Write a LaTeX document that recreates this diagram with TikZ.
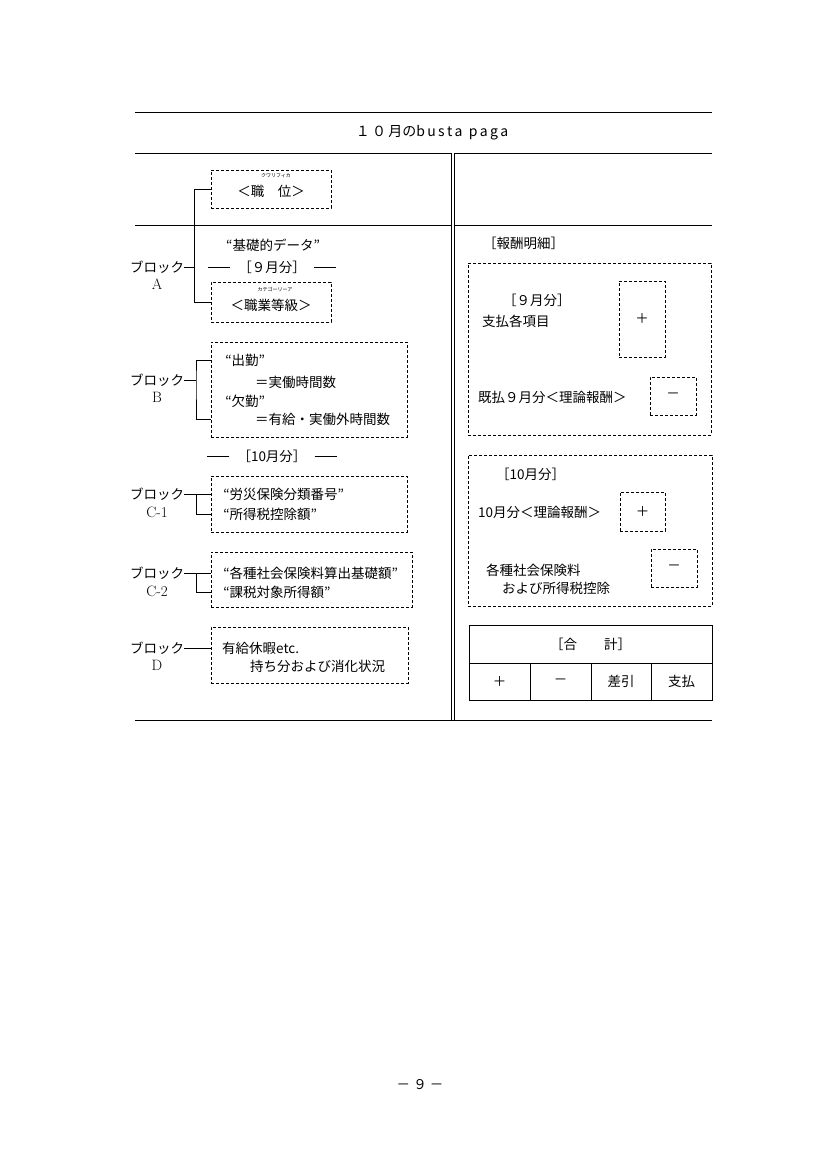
\documentclass[tikz,border=0pt]{standalone}
\usepackage{fontspec}
\newfontfamily\jpfont{Noto Sans CJK JP}
\usetikzlibrary{positioning}

\newcommand{\oq}{\makebox[0.85em][r]{“}}
\newcommand{\cq}{\makebox[0.85em][l]{”}}

\tikzset{
  jp/.style={font=\jpfont\fontsize{13.5}{15}\selectfont, inner sep=0pt},
  lat/.style={font=\fontsize{15}{17}\selectfont, inner sep=0pt},
  ruby/.style={font=\jpfont\fontsize{5}{6}\selectfont, inner sep=0pt},
  dbox/.style={draw, line width=0.6pt, dash pattern=on 3pt off 2pt, inner sep=0pt},
  cell/.style={draw, line width=0.8pt, inner sep=0pt},
  rule/.style={line width=0.8pt},
}

\begin{document}
\begin{tikzpicture}[x=1pt, y=-1pt]
  \useasboundingbox (0,0) rectangle (827,1170);
  % frame
  \draw[rule] (135,112) -- (712,112);
  \draw[rule] (135,153) -- (712,153);
  \draw[rule] (135,225) -- (712,225);
  \draw[rule] (135,720) -- (712,720);
  \draw[line width=0.6pt, double, double distance=2pt] (453,153) -- (453,720);
  \node[jp, font=\jpfont\fontsize{14}{16}\selectfont] (title) at (432,133) {１\,０\,月のb\,u\,s\,t\,a\ \ p\,a\,g\,a};

  % block A
  \node[dbox, minimum width=120, minimum height=38] (qual) at (271,189) {};
  \node[ruby] (qualR) at (276,176) {クワリフィカ};
  \node[jp] (qualT) at (271,191) {＜職　位＞};
  \node[jp] (basic) at (273,245) {\oq 基礎的データ\cq};
  \node[jp] (sep9) at (272,267) {［９月分］};
  \draw[rule] (sep9.west) ++(-8,0) -- ++(-22,0);
  \draw[rule] (sep9.east) ++(8,0) -- ++(22,0);
  \node[dbox, minimum width=120, minimum height=40] (grade) at (271,302) {};
  \node[ruby] (gradeR) at (275,289) {カテゴーリーア};
  \node[jp] (gradeT) at (271,305) {＜職業等級＞};
  \node[jp, anchor=west] (blkA) at (130,267) {ブロック};
  \node[lat] (blkAl) at (157,284) {A};
  \coordinate (brA) at (194,302);
  \draw[rule] (qual.west) -| (brA) -- (grade.west);
  \draw[rule] (blkA.east) -- (blkA.east -| brA);

  % block B
  \node[dbox, minimum width=196, minimum height=95] (work) at (309,389.5) {};
  \node[jp, anchor=west] (att) at (220,360) {\oq 出勤\cq};
  \node[jp, anchor=west] (attH) at (255,382) {＝実働時間数};
  \node[jp, anchor=west] (abs) at (220,401) {\oq 欠勤\cq};
  \node[jp, anchor=west] (absH) at (255,419) {＝有給・実働外時間数};
  \node[jp, anchor=west] (blkB) at (130,380) {ブロック};
  \node[lat] (blkBl) at (157,397) {B};
  \coordinate (brB) at (196,380);
  \draw[rule] (work.west |- att) -| (brB) |- (work.west |- absH);
  \draw[rule] (blkB.east) -- (brB);

  \node[jp] (sep10) at (272,456) {［10月分］};
  \draw[rule] (sep10.west) ++(-8,0) -- ++(-22,0);
  \draw[rule] (sep10.east) ++(8,0) -- ++(22,0);

  % block C-1
  \node[dbox, minimum width=196, minimum height=56] (boxC1) at (309,504) {};
  \node[jp, anchor=west] (insC1) at (218,494) {\oq 労災保険分類番号\cq};
  \node[jp, anchor=west] (taxC1) at (218,514) {\oq 所得税控除額\cq};
  \node[jp, anchor=west] (blkC1) at (130,494) {ブロック};
  \node[lat] (blkC1l) at (157,512) {C-1};
  \coordinate (brC1) at (196,494);
  \draw[rule] (blkC1.east) -- (blkC1.east -| boxC1.west);
  \draw[rule] (brC1) |- (boxC1.west |- taxC1);

  % block C-2
  \node[dbox, minimum width=201, minimum height=55] (boxC2) at (311.5,579.5) {};
  \node[jp, anchor=west] (insC2) at (218,573) {\oq 各種社会保険料算出基礎額\cq};
  \node[jp, anchor=west] (taxC2) at (218,592) {\oq 課税対象所得額\cq};
  \node[jp, anchor=west] (blkC2) at (130,573) {ブロック};
  \node[lat] (blkC2l) at (157,591) {C-2};
  \coordinate (brC2) at (196,573);
  \draw[rule] (blkC2.east) -- (blkC2.east -| boxC2.west);
  \draw[rule] (brC2) |- (boxC2.west |- taxC2);

  % block D
  \node[dbox, minimum width=197, minimum height=56] (boxD) at (309.5,655) {};
  \node[jp, anchor=west] (leave) at (222,648) {有給休暇etc.};
  \node[jp, anchor=west] (leaveH) at (250,666) {持ち分および消化状況};
  \node[jp, anchor=west] (blkD) at (130,648) {ブロック};
  \node[lat] (blkDl) at (157,665) {D};
  \draw[rule] (blkD.east) -- (blkD.east -| boxD.west);

  % right side: September
  \node[jp, anchor=west] (detail) at (483,243) {［報酬明細］};
  \node[dbox, minimum width=243, minimum height=172] (sep) at (589.5,349) {};
  \node[jp, anchor=west] (sepT) at (503,300) {［９月分］};
  \node[jp, anchor=west] (sepItems) at (482,321) {支払各項目};
  \node[dbox, jp, minimum width=46, minimum height=76] (sepPlus) at (642,319) {＋};
  \node[jp, anchor=west] (sepPaid) at (478,397) {既払９月分＜理論報酬＞};
  \node[dbox, jp, minimum width=46, minimum height=38] (sepMinus) at (673,396) {－};

  % right side: October
  \node[dbox, minimum width=244, minimum height=151] (oct) at (590,530.5) {};
  \node[jp, anchor=west] (octT) at (496,474) {［10月分］};
  \node[jp, anchor=west] (octPay) at (478,512) {10月分＜理論報酬＞};
  \node[dbox, jp, minimum width=45, minimum height=39] (octPlus) at (642.5,511.5) {＋};
  \node[jp, anchor=west] (octIns) at (486,570) {各種社会保険料};
  \node[jp, anchor=west] (octTax) at (502,588) {および所得税控除};
  \node[dbox, jp, minimum width=46, minimum height=38] (octMinus) at (674,568) {－};

  % total
  \node[cell, jp, minimum width=243, minimum height=38] (total) at (590.5,644) {［合　　計］};
  \node[cell, jp, minimum width=61, minimum height=37] (totPlus) at (499.5,681.5) {＋};
  \node[cell, jp, minimum width=61, minimum height=37] (totMinus) at (560.5,681.5) {－};
  \node[cell, jp, minimum width=60, minimum height=37] (totDiff) at (621,681.5) {差引};
  \node[cell, jp, minimum width=61, minimum height=37] (totPay) at (681.5,681.5) {支払};

  \node[jp] (page) at (420,1085) {－ ９ －};
\end{tikzpicture}
\end{document}
